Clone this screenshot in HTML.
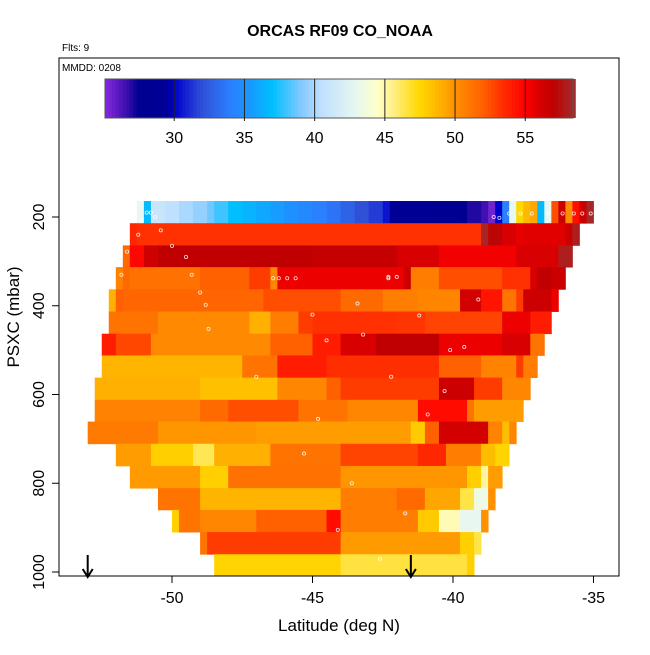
<!DOCTYPE html>
<html><head><meta charset="utf-8"><style>
body{margin:0;background:#fff}
svg text{font-family:"Liberation Sans",sans-serif}
</style></head><body>
<svg id="c" width="650" height="650" xmlns="http://www.w3.org/2000/svg">
<rect width="650" height="650" fill="#fff"/>
<g id="cells"></g>
<g id="pts"></g>
<g id="cbar"></g>
<rect x="59" y="58" width="560" height="518" fill="none" stroke="#000" stroke-width="1"/>
<g id="axes"></g>
<text x="340" y="36" font-size="16" font-weight="bold" text-anchor="middle">ORCAS RF09 CO_NOAA</text>
<text x="62" y="51" font-size="10">Flts: 9</text>
<text x="62" y="71" font-size="10">MMDD: 0208</text>
<text x="339" y="631" font-size="17" text-anchor="middle">Latitude (deg N)</text>
<text transform="translate(19,317) rotate(-90)" font-size="17" text-anchor="middle">PSXC (mbar)</text>
</svg>
<script>
const xTicks=[-50,-45,-40,-35];
const yTicks=[200,400,600,800,1000];
const cbTicks=[30,35,40,45,50,55];
const rowEdges=[164,214,264,313,363,413,463,512,562,612,661,711,761,811,860,910,960,1009];
const rowLats=[
[-51.25,-51,-50.75,-50.25,-49.75,-49.25,-48.75,-48.5,-48,-47.5,-47,-46.5,-46,-45.5,-45,-44.5,-44,-43.5,-43,-42.5,-42.25,-41.75,-40.5,-40.25,-39.75,-39.5,-39,-38.75,-38.5,-38.25,-38,-37.75,-37.5,-37.25,-37,-36.75,-36.5,-36.25,-36,-35.75,-35.5,-35.25,-35],
[-51.5,-51.25,-39,-38.75,-38.25,-37.75,-37.5,-36,-35.75,-35.5],
[-51.75,-51.5,-51,-50.5,-45,-42,-40.5,-37.75,-36.25,-35.75],
[-52,-51.75,-51.5,-49,-47.25,-46.5,-46.25,-41.75,-41.5,-40.5,-38.25,-37.25,-37,-36.5,-36],
[-52.25,-52,-51.75,-46.75,-44,-42.5,-41.25,-39.75,-39,-38.25,-37.75,-37.5,-36.5,-36.25],
[-52.25,-50.5,-47.25,-46.5,-45.5,-45,-42,-41,-38.25,-37.25,-36.5],
[-52.5,-52,-50.75,-46.5,-45,-44,-42.75,-40.5,-38.25,-37.25,-36.75],
[-52.5,-47.5,-46.25,-44.5,-40.5,-39,-37.75,-37.5,-37],
[-52.75,-49,-46.25,-44.5,-44,-40.5,-39.25,-38.25,-37.25],
[-52.75,-49,-48,-45.5,-43.75,-41.25,-39.5,-39.25,-37.5],
[-53,-50.5,-47,-41.5,-41,-40.5,-38.75,-38.25,-38,-37.75],
[-52,-50.75,-49.25,-48.5,-46.5,-44,-41.25,-40.25,-39,-38.5,-38,-38],
[-51.5,-49,-48,-44,-39.5,-39,-38.75,-38.25],
[-50.5,-49,-44,-42,-41,-39.75,-39.25,-38.75,-38.5],
[-50,-49.75,-49,-47,-44.5,-44,-41.25,-40.5,-39.75,-39,-38.75],
[-49,-48.75,-44,-39.75,-39.25,-39],
[-48.5,-44,-39.5,-39.25,-39.25]
];
const rowVals=[
[43,36.8,41,40.5,40,39.5,38.8,38,37,36.5,36,35.5,35,34.5,34,33.5,32.8,32,31.5,30.5,29.5,29,28.5,28,27.5,27,26.5,25.5,30,34,43,47.5,48.7,49.3,36.8,43,52.5,56.5,50.2,54.5,56.5,58.3],
[53.6,53.3,58.2,57.2,56,55.6,55.8,56.6,58],
[51.6,54.8,56.4,57,56.8,56,55.3,56,58],
[50.6,51.6,51.3,52,53,50.4,55.5,56.5,50.8,52.5,53.3,56,57,56.6],
[49,52,51.8,52.5,51.6,50.8,50.5,56.2,54.3,51.2,53,56.5,55.5],
[51.2,50.3,49,50.8,53,53.3,53.2,52.8,55.5,54],
[54,52.7,50.3,52,54,56,57,55.5,56,51.2],
[48.8,51.2,54,53.4,52,50.6,53,50.8],
[49,48.4,50.4,52,53,56.5,53,50.4],
[50.6,51.6,52.5,51.2,50.4,54.6,51.2,49.6],
[50.9,49.8,49.6,48,52,56.2,50.6,48.5,50.4],
[49.6,47.8,46.3,49,51.2,52.8,53.6,50.8,48.5,47.6,47.6],
[49.7,47.8,51.3,49.8,47.8,45.2,49.6],
[51.2,48.8,50.8,51.6,49.3,46.5,43.4,50],
[47.8,51.2,50.4,52,54.6,50.8,48,44.8,43,50],
[51.2,53,49.7,47.8,46.5],
[47.6,46.6,47.8,49.3]
];
const ptLat=[-50.9,-50.75,-50.6,-51.1,-50.4,-51.2,-50,-51.6,-49.5,-51.8,-49.3,-52.2,-49,-52.5,-48.8,-52.7,-48.7,-47,-46.4,-46.2,-45.9,-45.6,-43.4,-42.3,-42,-42.3,-41.2,-40.1,-39.6,-39.1,-38.55,-38.35,-38,-37.6,-37.2,-36.6,-36.1,-35.7,-35.4,-35.1,-45,-44.5,-43.2,-40.3,-40.9,-44.8,-43.6,-41.7,-44.1,-42.6,-45.3,-42.2,-38.9];
const ptP=[190,190,200,208,230,240,265,278,290,330,330,346,370,375,398,432,452,560,338,338,338,338,395,335,335,338,422,500,493,386,200,202,192,192,192,192,192,192,192,192,420,478,465,592,645,655,800,868,905,970,733,560,958];
const arrowLat=[-53,-41.5];

const X0=172,XS=28.1,Y0=217,YS=0.44375;
function xs(l){return X0+(l+50)*XS}
function ys(p){return Y0+(p-200)*YS}
const stops=[[25,[138,43,226]],[26.5,[64,16,176]],[27.5,[0,0,144]],[29.5,[0,0,150]],[30,[0,0,204]],[32,[48,80,216]],[34,[42,128,255]],[35,[30,144,255]],[37,[0,191,255]],[39,[128,200,255]],[40.5,[192,224,255]],[43,[232,248,240]],[44.5,[255,255,200]],[45.5,[255,240,140]],[47.5,[255,215,0]],[49,[255,176,0]],[50,[255,144,0]],[52,[255,96,0]],[53.5,[255,42,0]],[55,[255,0,0]],[56,[216,0,0]],[57,[192,0,0]],[58.4,[165,42,42]]];
function col(v){
 if(v<=stops[0][0])return 'rgb('+stops[0][1]+')';
 for(let i=1;i<stops.length;i++){if(v<=stops[i][0]){const a=stops[i-1],b=stops[i],t=(v-a[0])/(b[0]-a[0]);
 return 'rgb('+a[1].map((c,k)=>Math.round(c+(b[1][k]-c)*t)).join(',')+')';}}
 return 'rgb('+stops[stops.length-1][1]+')';
}
const NS='http://www.w3.org/2000/svg';
function mk(tag,attrs,parent){const e=document.createElementNS(NS,tag);for(const k in attrs)e.setAttribute(k,attrs[k]);parent.appendChild(e);return e}
const cells=document.getElementById('cells');
rowLats.forEach((lats,r)=>{
 const y1=ys(rowEdges[r]),y2=ys(rowEdges[r+1]);
 rowVals[r].forEach((v,j)=>{
  const x1=xs(lats[j]),x2=xs(lats[j+1]);
  if(x2<=x1)return;
  const e=mk('rect',{x:x1,y:y1,width:x2-x1+0.4,height:y2-y1+0.4,fill:col(v)},cells);
  
  
 });
});
const pts=document.getElementById('pts');
ptLat.forEach((l,i)=>{
 const e=mk('circle',{cx:xs(l),cy:ys(ptP[i]),r:1.6,fill:'none',stroke:'#fff','stroke-width':0.8,opacity:0.85},pts);
 
 
});
// colorbar
const cb=document.getElementById('cbar');
const CB0=105,CB1=573,CV0=25.07,CV1=58.4;
function cx(v){return CB0+(v-CV0)*(CB1-CB0)/(CV1-CV0)}
for(let v=CV0;v<CV1;v+=0.25){
 const e=mk('rect',{x:cx(v),y:79,width:cx(v+0.25)-cx(v)+0.4,height:39,fill:col(v+0.125)},cb);
 
 
}
mk('rect',{x:CB0,y:79,width:CB1-CB0,height:39,fill:'none',stroke:'#555','stroke-width':1},cb);
cbTicks.forEach(t=>{
 mk('line',{x1:cx(t),x2:cx(t),y1:79,y2:121,stroke:'#222','stroke-width':1},cb);
 const e=mk('text',{x:cx(t),y:143,'font-size':16,'text-anchor':'middle'},cb);e.textContent=t;
 
 
});
const ax=document.getElementById('axes');
xTicks.forEach(t=>{
 mk('line',{x1:xs(t),x2:xs(t),y1:576,y2:583,stroke:'#000'},ax);
 const e=mk('text',{x:xs(t),y:603,'font-size':16,'text-anchor':'middle'},ax);e.textContent=t;
 
 
});
yTicks.forEach(t=>{
 mk('line',{x1:52,x2:59,y1:ys(t),y2:ys(t),stroke:'#000'},ax);
 const e=mk('text',{transform:'translate(44,'+ys(t)+') rotate(-90)','font-size':16,'text-anchor':'middle'},ax);e.textContent=t;
 
 
});
arrowLat.forEach(l=>{
 const x=xs(l);
 const g=mk('g',{},ax);
 
 
 mk('line',{x1:x,x2:x,y1:555,y2:576,stroke:'#000','stroke-width':2},g);
 mk('path',{d:'M'+(x-5)+',569 L'+x+',577 L'+(x+5)+',569',fill:'none',stroke:'#000','stroke-width':2},g);
});
</script>
</body></html>
